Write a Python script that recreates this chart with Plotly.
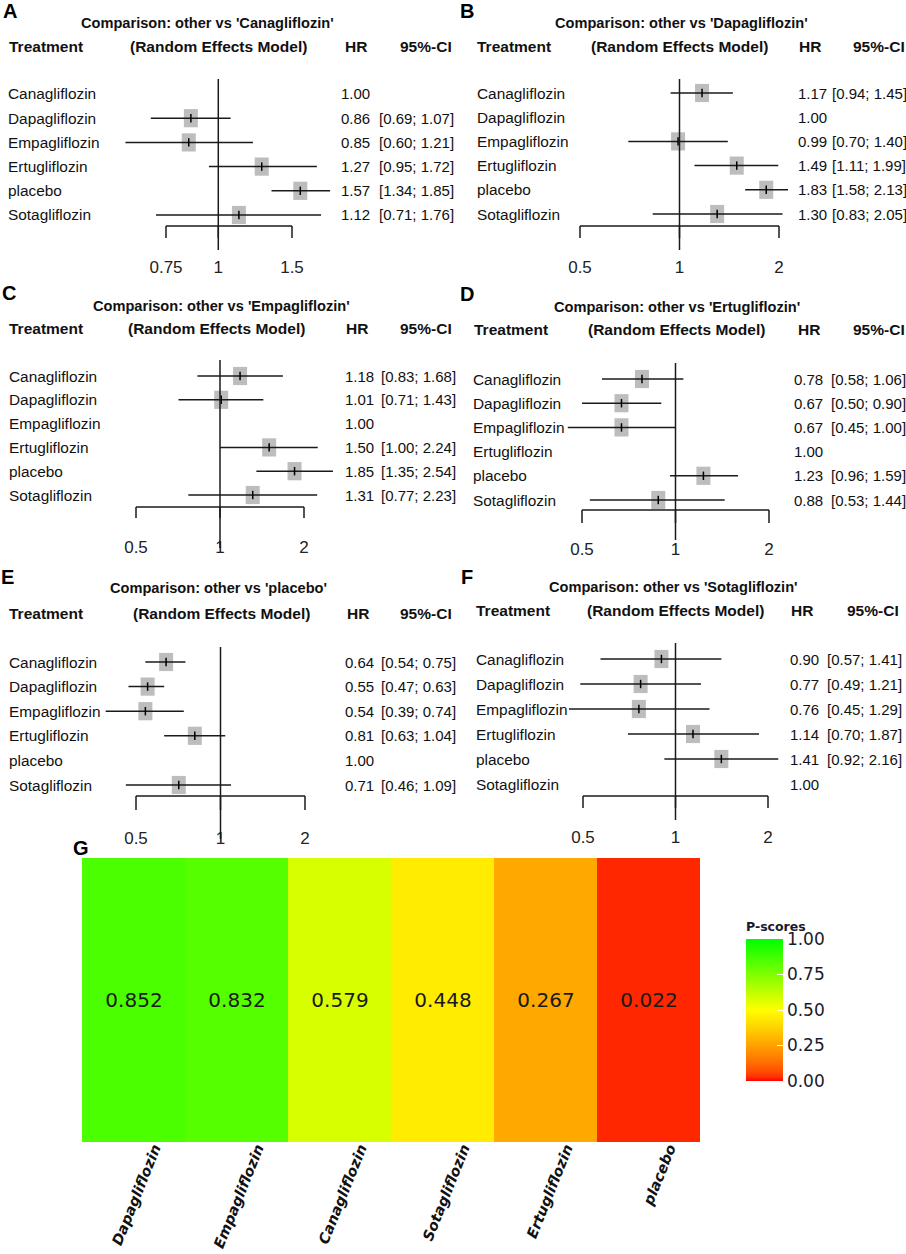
import math
import plotly.graph_objects as go

# ---- data -------------------------------------------------------------
treatments = ["Canagliflozin", "Dapagliflozin", "Empagliflozin",
              "Ertugliflozin", "placebo", "Sotagliflozin"]

# other vs 'Canagliflozin'
hr_cana = [1.00, 0.86, 0.85, 1.27, 1.57, 1.12]
lo_cana = [None, 0.69, 0.60, 0.95, 1.34, 0.71]
hi_cana = [None, 1.07, 1.21, 1.72, 1.85, 1.76]
# other vs 'Dapagliflozin'
hr_dapa = [1.17, 1.00, 0.99, 1.49, 1.83, 1.30]
lo_dapa = [0.94, None, 0.70, 1.11, 1.58, 0.83]
hi_dapa = [1.45, None, 1.40, 1.99, 2.13, 2.05]
# other vs 'Empagliflozin'
hr_empa = [1.18, 1.01, 1.00, 1.50, 1.85, 1.31]
lo_empa = [0.83, 0.71, None, 1.00, 1.35, 0.77]
hi_empa = [1.68, 1.43, None, 2.24, 2.54, 2.23]
# other vs 'Ertugliflozin'
hr_ertu = [0.78, 0.67, 0.67, 1.00, 1.23, 0.88]
lo_ertu = [0.58, 0.50, 0.45, None, 0.96, 0.53]
hi_ertu = [1.06, 0.90, 1.00, None, 1.59, 1.44]
# other vs 'placebo'
hr_plac = [0.64, 0.55, 0.54, 0.81, 1.00, 0.71]
lo_plac = [0.54, 0.47, 0.39, 0.63, None, 0.46]
hi_plac = [0.75, 0.63, 0.74, 1.04, None, 1.09]
# other vs 'Sotagliflozin'
hr_sota = [0.90, 0.77, 0.76, 1.14, 1.41, 1.00]
lo_sota = [0.57, 0.49, 0.45, 0.70, 0.92, None]
hi_sota = [1.41, 1.21, 1.29, 1.87, 2.16, None]

ticks_a = [0.75, 1, 1.5]
ticks_std = [0.5, 1, 2]

rank_names = ["Dapagliflozin", "Empagliflozin", "Canagliflozin",
              "Sotagliflozin", "Ertugliflozin", "placebo"]
p_scores = [0.852, 0.832, 0.579, 0.448, 0.267, 0.022]
pscore_ticks = [0.0, 0.25, 0.5, 0.75, 1.0]

panels = [
    ("A", "Canagliflozin", hr_cana, lo_cana, hi_cana, ticks_a),
    ("B", "Dapagliflozin", hr_dapa, lo_dapa, hi_dapa, ticks_std),
    ("C", "Empagliflozin", hr_empa, lo_empa, hi_empa, ticks_std),
    ("D", "Ertugliflozin", hr_ertu, lo_ertu, hi_ertu, ticks_std),
    ("E", "placebo", hr_plac, lo_plac, hi_plac, ticks_std),
    ("F", "Sotagliflozin", hr_sota, lo_sota, hi_sota, ticks_std),
]

# ---- page geometry (pixels) -------------------------------------------
W, H = 906, 1254
# letter pos, title pos, header y / x's, names x, first row y, row step,
# HR x, CI x, px of first/last tick, ref line top/bottom, bracket y, tick end, tick label y
GEOM = {
    "A": dict(lab=(10, 11), title=(207, 23), hy=47, hx=(7, 218, 356, 398), nx=6,
              r0=94, rs=24.2, vx=339, cx=377, p=(166, 292), ref=(79, 250), by=226, bt=238, tly=265),
    "B": dict(lab=(467, 11), title=(681, 23), hy=47, hx=(475, 679, 810, 851), nx=475,
              r0=93, rs=24.2, vx=796, cx=830, p=(580, 779), ref=(79, 250), by=226, bt=238, tly=265),
    "C": dict(lab=(9, 293), title=(221, 306), hy=328, hx=(7, 216, 357, 398), nx=7,
              r0=376, rs=23.8, vx=343, cx=379, p=(136, 304), ref=(360, 548), by=507, bt=518, tly=545),
    "D": dict(lab=(467, 294), title=(677, 307), hy=330, hx=(472, 676, 809, 851), nx=471,
              r0=379, rs=24.2, vx=792, cx=829, p=(582, 769), ref=(363, 540), by=510, bt=523, tly=547),
    "E": dict(lab=(7, 577), title=(218, 588), hy=613, hx=(7, 221, 358, 398), nx=7,
              r0=662, rs=24.6, vx=343, cx=379, p=(136, 305), ref=(647, 839), by=796, bt=810, tly=836),
    "F": dict(lab=(467, 577), title=(673, 587), hy=610, hx=(474, 675, 802, 845), nx=474,
              r0=659, rs=25.0, vx=788, cx=825, p=(583, 768), ref=(643, 820), by=796, bt=808, tly=835),
}

SANS = "Liberation Sans, Arial, sans-serif"
INK = "#111111"


def px(x):
    return x / W


def py(y):
    return 1 - y / H


# ---- colour ramp red -> yellow -> green ------------------------------
def _to_lab(hexc):
    rgb = [int(hexc[i:i + 2], 16) / 255 for i in (1, 3, 5)]
    r, g, b = [c / 12.92 if c <= 0.04045 else ((c + 0.055) / 1.055) ** 2.4 for c in rgb]
    X = (0.4124 * r + 0.3576 * g + 0.1805 * b) / 0.95047
    Y = 0.2126 * r + 0.7152 * g + 0.0722 * b
    Z = (0.0193 * r + 0.1192 * g + 0.9505 * b) / 1.08883
    f = lambda t: t ** (1 / 3) if t > (6 / 29) ** 3 else t / (3 * (6 / 29) ** 2) + 4 / 29
    return 116 * f(Y) - 16, 500 * (f(X) - f(Y)), 200 * (f(Y) - f(Z))


def _from_lab(L, a, b):
    fy = (L + 16) / 116
    fi = lambda t: t ** 3 if t > 6 / 29 else 3 * (6 / 29) ** 2 * (t - 4 / 29)
    X, Y, Z = fi(fy + a / 500) * 0.95047, fi(fy), fi(fy - b / 200) * 1.08883
    lin = [3.2406 * X - 1.5372 * Y - 0.4986 * Z,
           -0.9689 * X + 1.8758 * Y + 0.0415 * Z,
           0.0557 * X - 0.2040 * Y + 1.0570 * Z]
    out = []
    for c in lin:
        c = 12.92 * c if c <= 0.0031308 else 1.055 * max(c, 0) ** (1 / 2.4) - 0.055
        out.append(int(round(min(max(c, 0), 1) * 255)))
    return "rgb(%d,%d,%d)" % tuple(out)


red, yellow = _to_lab("#ff0000"), _to_lab("#ffff00")
colorscale = []
for k in range(21):
    t = k / 40
    colorscale.append([t, _from_lab(*[red[j] + (yellow[j] - red[j]) * t / 0.5 for j in range(3)])])
colorscale.append([1.0, "rgb(0,255,0)"])

fig = go.Figure()
annotations = []
shapes = []

for n, (letter, ref_name, hr, lo, hi, ticks) in enumerate(panels, start=1):
    g = GEOM[letter]
    xa = "x" if n == 1 else "x%d" % n
    ya = "y" if n == 1 else "y%d" % n
    ox = 0 if letter in "ACE" else 453
    d0, d1 = ox + 95, ox + 345
    k = (math.log10(ticks[-1]) - math.log10(ticks[0])) / (g["p"][1] - g["p"][0])
    xr = [math.log10(ticks[0]) + (d0 - g["p"][0]) * k,
          math.log10(ticks[0]) + (d1 - g["p"][0]) * k]
    ytop, ybot = g["r0"] - 22, g["tly"] - 10
    yr = [(ybot - g["r0"]) / g["rs"], (ytop - g["r0"]) / g["rs"]]

    rows = [i for i in range(len(treatments)) if lo[i] is not None]
    est_x = [hr[i] for i in rows]
    ci_x, ci_y = [], []
    for i in rows:
        ci_x += [lo[i], hi[i], None]
        ci_y += [i, i, None]

    fig.add_trace(go.Scatter(
        x=est_x, y=rows, mode="markers", xaxis=xa, yaxis=ya, showlegend=False,
        marker=dict(symbol="line-ns", size=13, line=dict(width=14, color="#bdbdbd")),
        hoverinfo="skip"))
    fig.add_trace(go.Scatter(
        x=ci_x, y=ci_y, mode="lines", xaxis=xa, yaxis=ya, showlegend=False,
        line=dict(color="#1a1a1a", width=1.5), hoverinfo="skip"))
    fig.add_trace(go.Scatter(
        x=est_x, y=rows, mode="markers", xaxis=xa, yaxis=ya, showlegend=False,
        marker=dict(symbol="line-ns", size=6, line=dict(width=1.5, color="#000000")),
        hovertemplate="HR %{x:.2f}<extra></extra>"))

    fig.update_layout(**{
        ("xaxis" if n == 1 else "xaxis%d" % n): dict(
            domain=[px(d0), px(d1)], type="log", range=xr, anchor=ya,
            tickvals=ticks, ticktext=[("%g" % t) for t in ticks], ticks="",
            showgrid=False, zeroline=False, showline=False, fixedrange=True,
            tickfont=dict(family=SANS, size=17, color="#222222")),
        ("yaxis" if n == 1 else "yaxis%d" % n): dict(
            domain=[py(ybot), py(ytop)], range=yr, anchor=xa, visible=False,
            fixedrange=True),
    })

    # reference line and bracket axis
    shapes.append(dict(type="line", xref=xa, yref="paper", x0=1, x1=1,
                       y0=py(g["ref"][0]), y1=py(g["ref"][1]),
                       line=dict(color="#1a1a1a", width=1.5)))
    shapes.append(dict(type="line", xref=xa, yref="paper", x0=ticks[0], x1=ticks[-1],
                       y0=py(g["by"]), y1=py(g["by"]),
                       line=dict(color="#1a1a1a", width=1.5)))
    for t in ticks:
        shapes.append(dict(type="line", xref=xa, yref="paper", x0=t, x1=t,
                           y0=py(g["by"]), y1=py(g["bt"]),
                           line=dict(color="#1a1a1a", width=1.5)))

    # panel letter, title, header
    annotations.append(dict(text=letter, x=px(g["lab"][0]), y=py(g["lab"][1]),
                            xref="paper", yref="paper", showarrow=False,
                            xanchor="center", yanchor="middle",
                            font=dict(family=SANS, size=20, color="#000000", weight="bold")))
    annotations.append(dict(text="Comparison: other vs '%s'" % ref_name,
                            x=px(g["title"][0]), y=py(g["title"][1]),
                            xref="paper", yref="paper", showarrow=False,
                            xanchor="center", yanchor="middle",
                            font=dict(family=SANS, size=14.6, color=INK, weight="bold")))
    hx = g["hx"]
    for txt, xx, anc in [("Treatment", hx[0], "left"),
                         ("(Random Effects Model)", hx[1], "center"),
                         ("HR", hx[2], "center"),
                         ("95%-CI", hx[3], "left")]:
        annotations.append(dict(text=txt, x=px(xx), y=py(g["hy"]), xanchor=anc,
                                yanchor="middle", xref="paper", yref="paper",
                                showarrow=False,
                                font=dict(family=SANS, size=15.5, color=INK, weight="bold")))

    # table columns
    for i, name in enumerate(treatments):
        annotations.append(dict(text=name, x=px(g["nx"]), y=i, xref="paper", yref=ya,
                                xanchor="left", yanchor="middle", showarrow=False,
                                font=dict(family=SANS, size=15.4, color=INK)))
        annotations.append(dict(text="%.2f" % hr[i], x=px(g["vx"]), y=i, xref="paper",
                                yref=ya, xanchor="left", yanchor="middle", showarrow=False,
                                font=dict(family=SANS, size=15, color=INK)))
        if lo[i] is not None:
            annotations.append(dict(text="[%.2f; %.2f]" % (lo[i], hi[i]), x=px(g["cx"]),
                                    y=i, xref="paper", yref=ya, xanchor="left",
                                    yanchor="middle", showarrow=False,
                                    font=dict(family=SANS, size=15, color=INK)))

# ---- P-score heatmap ---------------------------------------------------
fig.add_trace(go.Heatmap(
    x=rank_names, y=["P-score"], z=[p_scores], zmin=0, zmax=1,
    colorscale=colorscale, xaxis="x7", yaxis="y7",
    texttemplate="%{z:.3f}",
    textfont=dict(family="DejaVu Sans", size=20, color="#1a1a1a"),
    hovertemplate="%{x}: %{z:.3f}<extra></extra>",
    colorbar=dict(
        title=dict(text="P-scores", side="top",
                   font=dict(family="DejaVu Sans", size=12.5, color="#1a1a2e", weight="bold")),
        x=px(746), xanchor="left", y=py(1000), yanchor="middle",
        thickness=37, thicknessmode="pixels", len=162 / H, lenmode="fraction",
        outlinewidth=0, xpad=0, ypad=0,
        tickvals=pscore_ticks, ticktext=["%.2f" % v for v in pscore_ticks],
        ticks="inside", ticklen=6, tickcolor="white", tickwidth=1.2,
        tickfont=dict(family="DejaVu Sans", size=17, color="#1a1a2e")),
))
fig.update_layout(
    xaxis7=dict(domain=[px(82), px(700)], anchor="y7", showgrid=False, zeroline=False,
                showline=False, ticks="", tickangle=-68, ticklabelshift=21,
                ticklabelstandoff=-6,
                tickfont=dict(family="DejaVu Sans", size=14.5, color="#111111",
                              weight="bold", style="italic"),
                fixedrange=True),
    yaxis7=dict(domain=[py(1142), py(858)], anchor="x7", visible=False, fixedrange=True),
)
annotations.append(dict(text="G", x=px(81), y=py(848), xref="paper", yref="paper",
                        xanchor="center", yanchor="middle", showarrow=False,
                        font=dict(family=SANS, size=20, color="#000000", weight="bold")))

fig.update_layout(
    width=W, height=H, margin=dict(l=0, r=0, t=0, b=0),
    paper_bgcolor="white", plot_bgcolor="rgba(0,0,0,0)",
    annotations=annotations, shapes=shapes, showlegend=False,
)

fig.write_html("out.html", config={"displayModeBar": False},
               post_script="document.body.style.margin='0px';")
